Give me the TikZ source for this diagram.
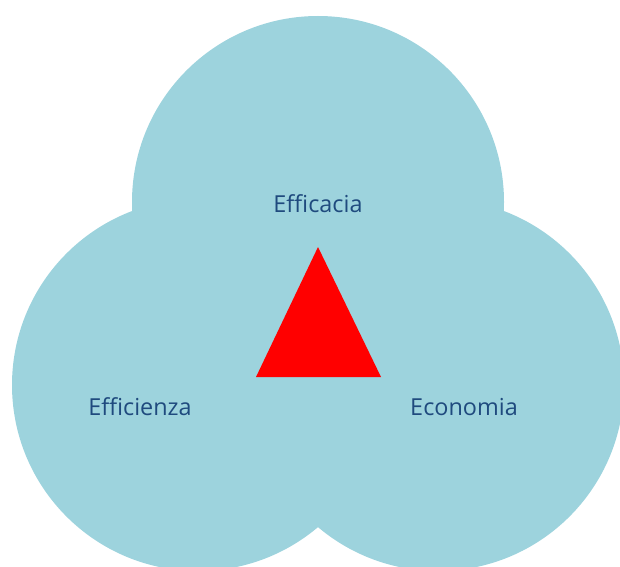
\documentclass[tikz,border=0pt]{standalone}
\usepackage{fontspec}
\setmainfont{Open Sans}
\definecolor{circ}{HTML}{9DD3DD}
\definecolor{txt}{HTML}{1F4A7E}
\begin{document}
\begin{tikzpicture}[x=1bp,y=-1bp,
  circ/.style={fill=circ,draw=none},
  lbl/.style={text=txt,font=\fontsize{23.5}{28}\selectfont,inner sep=0pt}]
\useasboundingbox (0,0) rectangle (620,567);
\clip (0,0) rectangle (620,567);
\fill[circ] (318,202) circle[radius=186];
\fill[circ] (198,385) circle[radius=186];
\fill[circ] (438,385) circle[radius=186];
\fill[red] (318,247) -- (381,377) -- (256,377) -- cycle;
\node[lbl] (eff) at (318,204) {Efficacia};
\node[lbl] (efz) at (140,407) {Efficienza};
\node[lbl] (eco) at (464,407) {Economia};
\end{tikzpicture}
\end{document}
